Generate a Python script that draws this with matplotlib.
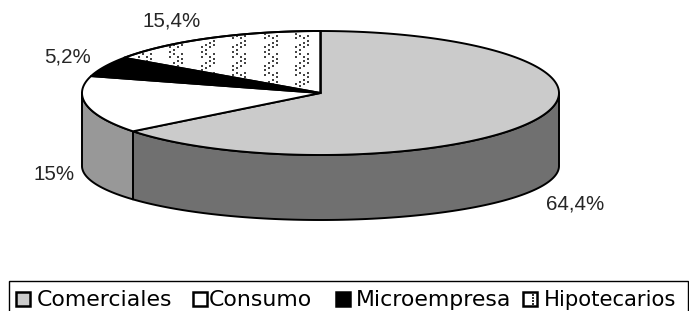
import numpy as np
import matplotlib
matplotlib.use("Agg")
import matplotlib.pyplot as plt
from matplotlib.patches import Polygon, Rectangle

# ---- data ----
categories = ["Comerciales", "Consumo", "Microempresa", "Hipotecarios"]
values = [64.4, 15.0, 5.2, 15.4]
value_labels = ["64,4%", "15%", "5,2%", "15,4%"]

# ---- styles / layout ----
top_colors = ["#cbcbcb", "#ffffff", "#000000", "#ffffff"]
side_colors = ["#707070", "#989898", "#000000", "#ffffff"]
label_pos = [(575, 204), (54, 175), (68, 57), (172, 21)]
legend_sq_x = [16, 193, 336, 523]
legend_txt_x = [37, 209, 356, 544]
legend_sizes = [15.8, 15.8, 15.8, 15.2]

W, H = 689, 311
fig = plt.figure(figsize=(W / 100, H / 100), dpi=100)
ax = fig.add_axes([0, 0, 1, 1])
ax.set_xlim(0, W)
ax.set_ylim(H, 0)
ax.axis("off")

cx, cy, a, b = 320.5, 93.0, 238.5, 62.0
cy2, b2 = 166.0, 54.0
lw = 1.4

def top_pt(t):
    return cx + a * np.cos(t), cy - b * np.sin(t)

def bot_pt(t):
    return cx + a * np.cos(t), cy2 - b2 * np.sin(t)

# angles: start at 90 deg, go clockwise
total = sum(values)
start = np.deg2rad(90.0)
spans = []
cur = start
for v in values:
    ang = 2 * np.pi * v / total
    spans.append((cur - ang, cur))
    cur -= ang

# ---- sides (front half) ----
for i, (t1, t2) in enumerate(spans):
    lo = t1 % (2 * np.pi)
    hi = lo + (t2 - t1)
    for f0, f1 in [(np.pi, 2 * np.pi), (-np.pi, 0), (3 * np.pi, 4 * np.pi)]:
        s0, s1 = max(lo, f0), min(hi, f1)
        if s1 > s0:
            ts = np.linspace(s0, s1, 120)
            xt, yt = top_pt(ts)
            xb, yb = bot_pt(ts[::-1])
            poly = Polygon(np.column_stack([np.r_[xt, xb], np.r_[yt, yb]]),
                           closed=True, facecolor=side_colors[i],
                           edgecolor="black", linewidth=lw, joinstyle="round")
            ax.add_patch(poly)

# ---- top faces ----
top_polys = []
for i, (t1, t2) in enumerate(spans):
    ts = np.linspace(t1, t2, 200)
    xt, yt = top_pt(ts)
    pts = np.column_stack([np.r_[cx, xt], np.r_[cy, yt]])
    poly = Polygon(pts, closed=True, facecolor=top_colors[i],
                   edgecolor="black", linewidth=lw, joinstyle="round", zorder=3)
    ax.add_patch(poly)
    top_polys.append(poly)

# dotted pattern for Hipotecarios
dx, dy = [], []
for col in range(8):
    xc = 302 - 31.5 * col
    for k, off in enumerate([-6, -2, 2, 6]):
        for j in range(30):
            yy = 29 + 4.6 * j + (k % 2) * 2.3
            if (j + k) % 4 == 3:
                continue
            dx.append(xc + off)
            dy.append(yy)
sc = ax.scatter(dx, dy, s=0.7, c="#444444", marker="s", linewidths=0, zorder=4)
sc.set_clip_path(top_polys[3])
ts = np.linspace(spans[3][0], spans[3][1], 200)
xt, yt = top_pt(ts)
ax.add_patch(Polygon(np.column_stack([np.r_[cx, xt], np.r_[cy, yt]]), closed=True,
                     fill=False, edgecolor="black", linewidth=lw, zorder=5))

# ---- value labels ----
for lab, (x, y) in zip(value_labels, label_pos):
    ax.text(x, y, lab, ha="center", va="center", fontsize=14.8,
            family="Liberation Sans", color="#262626", zorder=6)

# ---- legend box ----
ax.add_patch(Rectangle((9, 281), 679, 40, facecolor="white",
                       edgecolor="black", linewidth=1.0, zorder=6))
for i, cat in enumerate(categories):
    x0 = legend_sq_x[i]
    ax.add_patch(Rectangle((x0, 291.5), 14, 14, facecolor=top_colors[i],
                           edgecolor="black", linewidth=1.8, zorder=7))
    if i == 3:
        ax.scatter([x0 + 9.5] * 4, [294.5, 297.5, 300.5, 303.5], s=0.8,
                   c="#333333", marker="s", linewidths=0, zorder=8)
    ax.text(legend_txt_x[i], 305.5, cat, ha="left", va="baseline",
            fontsize=legend_sizes[i], family="DejaVu Sans", color="black", zorder=8)

fig.savefig("out.png", dpi=100)
